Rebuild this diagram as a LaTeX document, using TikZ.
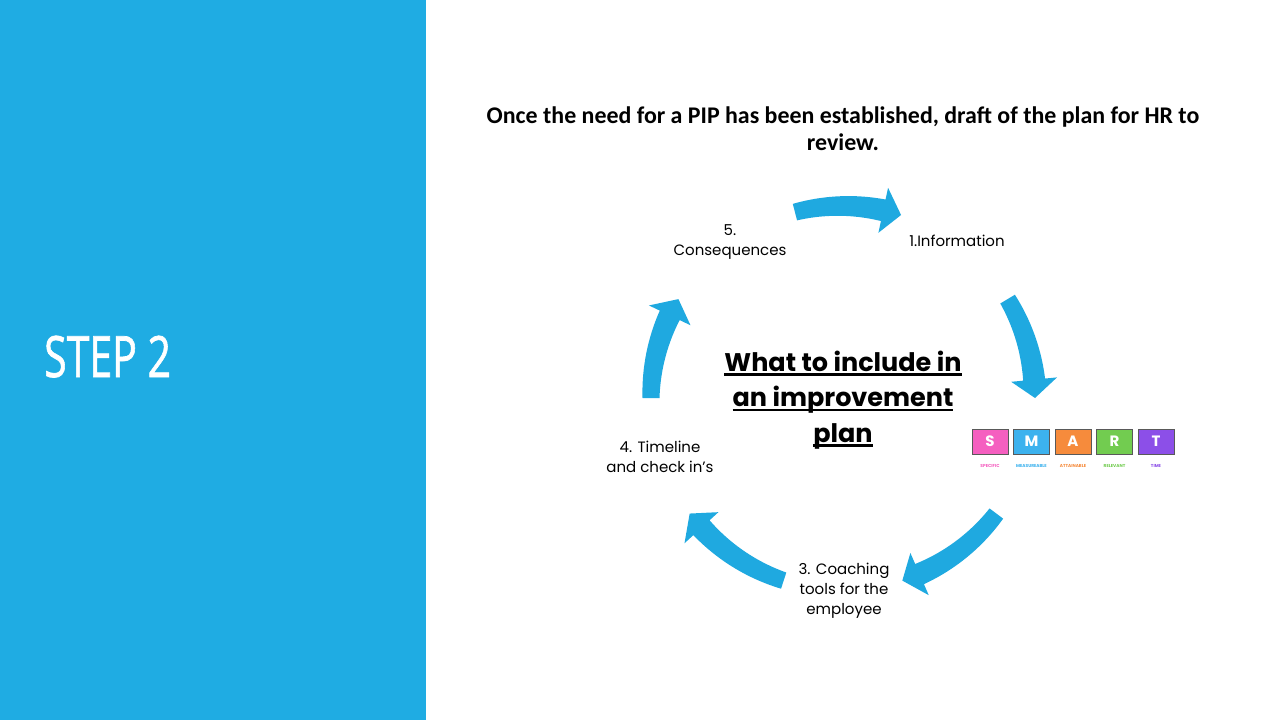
\documentclass[tikz,border=0pt]{standalone}
\usepackage{fontspec}
\setmainfont{Poppins}
\newfontfamily\calfont{Carlito}
\newfontfamily\stepfont[FakeBold=1.3]{Open Sans}
\definecolor{panel}{HTML}{1FACE3}
\definecolor{arrowblue}{HTML}{1FA9E0}
\definecolor{smS}{HTML}{F55FC0}
\definecolor{smM}{HTML}{3CB2EE}
\definecolor{smA}{HTML}{F68B3C}
\definecolor{smR}{HTML}{72CC50}
\definecolor{smT}{HTML}{8C4FE8}
\newcommand{\ulbox}[1]{\setbox0=\hbox{#1}\rlap{\rule[-4.5pt]{\wd0}{2.4pt}}\box0}
\newcommand{\cyclearrow}[2]{%
  \pgfmathsetmacro{\hb}{#2-5.5}%
  \fill[arrowblue]
    plot[domain=#1:\hb, samples=30] ({843+(200.5+2.5*(\x-#1)/(\hb-#1))*cos(\x)}, {398+(200.5+2.5*(\x-#1)/(\hb-#1))*sin(\x)})
    -- ({843+215*cos(\hb)},{398+215*sin(\hb)})
    -- ({843+192*cos(#2)},{398+192*sin(#2)})
    -- ({843+169*cos(\hb)},{398+169*sin(\hb)})
    -- plot[domain=\hb:#1, samples=30] ({843+(183.5-2.5*(\x-#1)/(\hb-#1))*cos(\x)}, {398+(183.5-2.5*(\x-#1)/(\hb-#1))*sin(\x)})
    -- cycle;}
\tikzset{
  cyclelbl/.style={align=center, font=\fontsize{15}{20}\selectfont, text=black, inner sep=0pt},
  smartbox/.style={draw=black!65, line width=0.8pt, minimum width=36pt, minimum height=25pt, inner sep=0pt,
    text=white, font=\bfseries\fontsize{15}{15}\selectfont},
  smartlbl/.style={inner sep=0pt, font=\bfseries\fontsize{4.3}{5}\selectfont}
}
\begin{document}
\begin{tikzpicture}[x=1pt,y=-1pt]
\useasboundingbox (0,0) rectangle (1280,720);
\fill[white] (0,0) rectangle (1280,720);
\fill[panel] (0,0) rectangle (426,720);
\node[anchor=base west, text=white, font=\stepfont\fontsize{57}{60}\selectfont, xscale=0.72, transform shape, inner sep=0pt] (steptitle) at (44,377) {STEP 2};

\node[align=center, font=\calfont\bfseries\fontsize{23.9}{27}\selectfont, inner sep=0pt] (heading) at (843,128.5)
  {Once the need for a PIP has been established, draft of the plan for HR to\\review.};

\cyclearrow{255.5}{287.6}
\cyclearrow{329}{360}
\cyclearrow{37}{72}
\cyclearrow{108}{143}
\cyclearrow{180}{211}

\node[cyclelbl] (conseq) at (730,242) {5.\\Consequences};
\node[cyclelbl] (info) at (957,241) {1.Information};
\node[cyclelbl] (timeline) at (660,457) {4. Timeline\\and check in’s};
\node[cyclelbl] (coach) at (844,591) {3. Coaching\\tools for the\\employee};

\node[align=center, font=\bfseries\fontsize{25.5}{35.5}\selectfont, inner sep=0pt] (center) at (843,400)
  {\ulbox{What to include in}\\\ulbox{an improvement}\\\ulbox{plan}};

\foreach \L/\W/\C [count=\i from 0] in {S/SPECIFIC/smS, M/MEASUREABLE/smM, A/ATTAINABLE/smA, R/RELEVANT/smR, T/TIME/smT} {
  \node[smartbox, fill=\C] (box\L) at ({990+41.5*\i},441.5) {\L};
  \node[smartlbl, text=\C] (lbl\L) at ({990+41.5*\i},465.5) {\W};
}
\end{tikzpicture}
\end{document}
